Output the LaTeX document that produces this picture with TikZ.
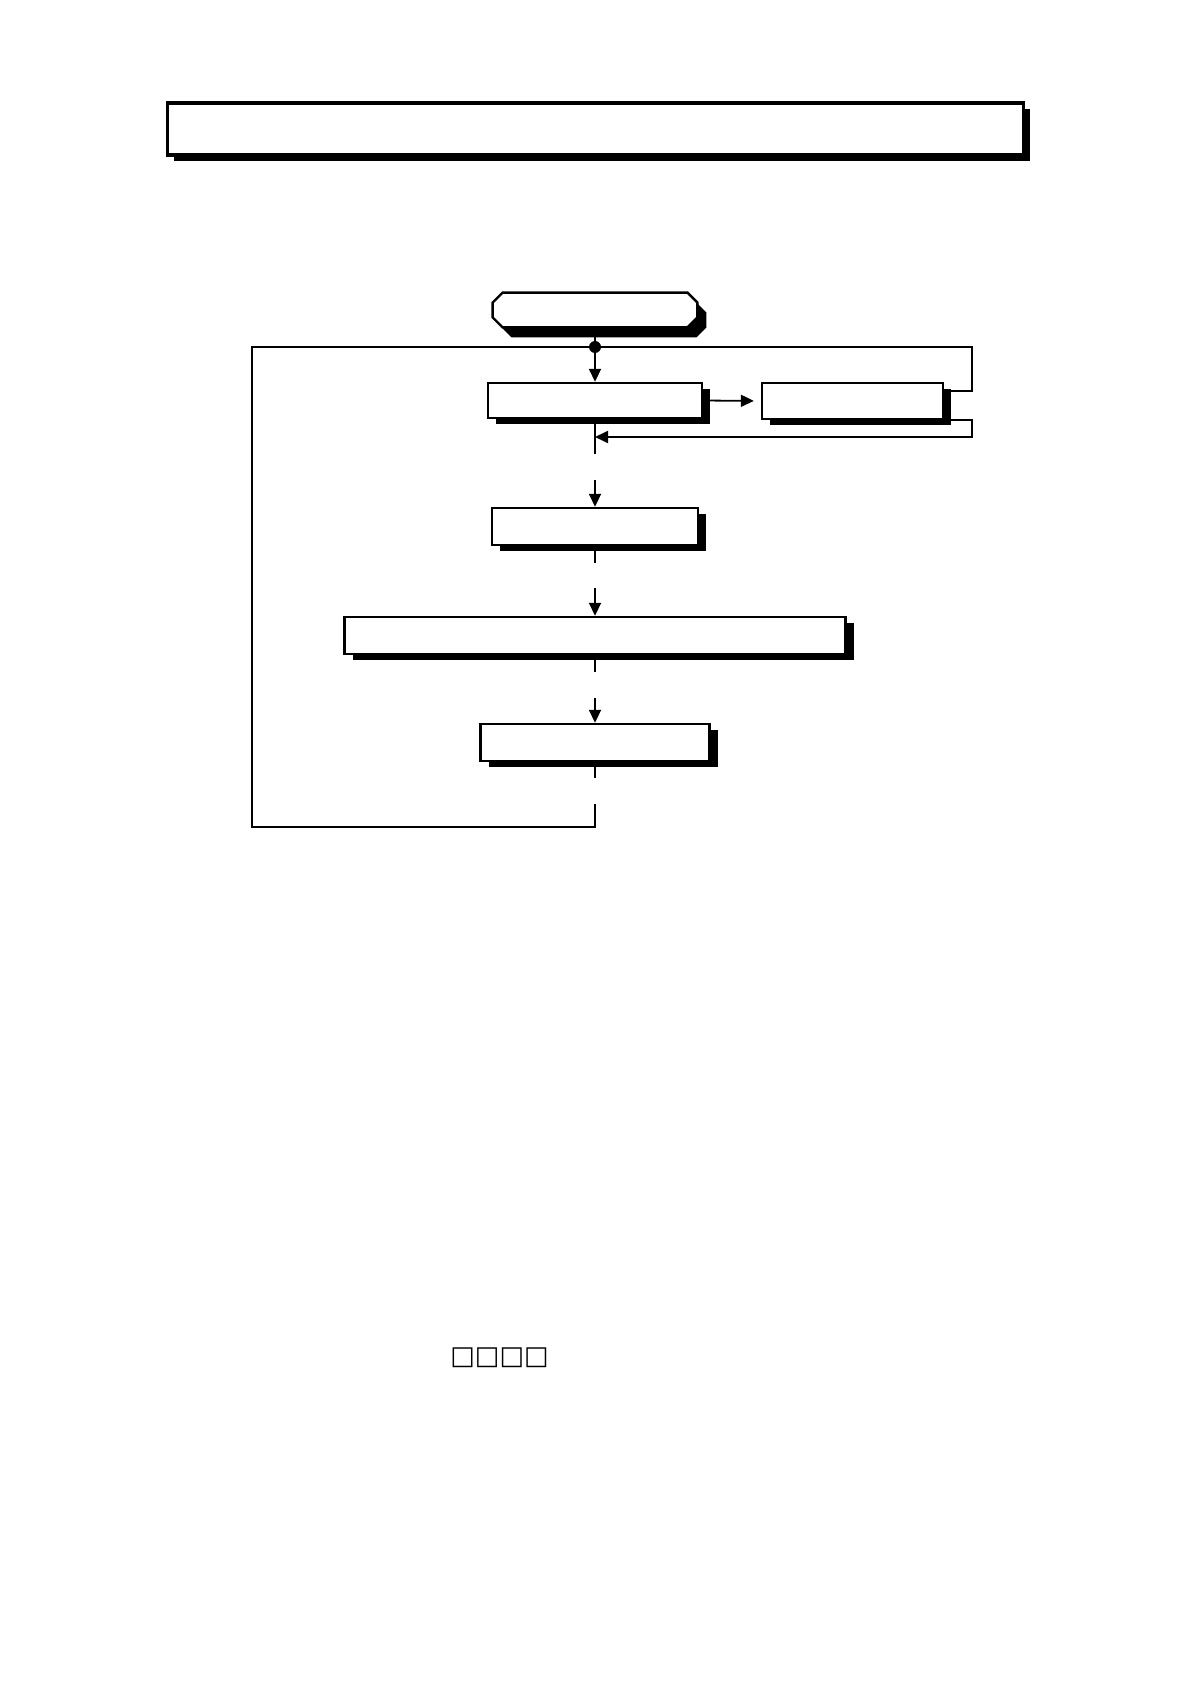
\documentclass[tikz,border=0pt]{standalone}
\usepackage{fontspec}
\newfontfamily\symfont{DejaVu Sans}
\usetikzlibrary{arrows.meta}
\usetikzlibrary{shadows}

% octagon round a named node: #1 node, #2 chamfer
\newcommand\octpath[2]{([xshift=#2]#1.north west) -- ([xshift=-#2]#1.north east)
  -- ([yshift=-#2]#1.north east) -- ([yshift=#2]#1.south east)
  -- ([xshift=-#2]#1.south east) -- ([xshift=#2]#1.south west)
  -- ([yshift=#2]#1.south west) -- ([yshift=-#2]#1.north west) -- cycle}

\tikzset{
  stepbox/.style={draw,line width=1.2pt,fill=white,inner sep=0pt,minimum height=17.5pt,
    drop shadow={shadow xshift=4pt,shadow yshift=-3pt,opacity=1,fill=black}},
  startbox/.style={inner sep=0pt,minimum width=102pt,minimum height=17pt},
  titlebox/.style={draw,line width=1.7pt,fill=white,inner sep=0pt,minimum width=428pt,minimum height=26pt,
    drop shadow={shadow xshift=3pt,shadow yshift=-3pt,opacity=1,fill=black}},
  flow/.style={line width=0.9pt}
}

\begin{document}
\begin{tikzpicture}[>={Triangle[length=6.5pt,width=6pt]},x=0.5pt,y=-0.5pt]
    \useasboundingbox (0,0) rectangle (1191,1684);
    \node[titlebox] (title) at (595.5,129) {};
    \node[startbox] (start) at (595,310) {};
    \node[startbox] (startshadow) at ([xshift=4.5pt,yshift=-5pt]start) {};
    \fill \octpath{startshadow}{5pt};
    \filldraw[fill=white,line width=1.2pt] \octpath{start}{5pt};
    \node[stepbox,minimum width=107pt] (read) at (595,400.5) {};
    \node[stepbox,minimum width=90.5pt,minimum height=18pt] (sub) at (852.5,401) {};
    \node[stepbox,minimum width=103pt,minimum height=18.5pt] (calc) at (595,526.5) {};
    \node[stepbox,minimum width=250.5pt,minimum height=18.5pt] (check) at (595,635.5) {};
    \node[stepbox,minimum width=114.5pt,minimum height=18.5pt] (out) at (595,742.5) {};
    \node[font=\symfont\fontsize{13}{13}\selectfont,inner sep=0pt] (note) at (499.5,1358) {□□□□};
    % junction below the start
    \coordinate (dot) at (595,347);
    \draw[flow] (start.south) -- (dot);
    \fill (dot) circle (3pt);
    \draw[flow,->] (dot) -- (read.north);
    \draw[flow,->,shorten >=3.5pt] (read.east) -- (sub.west);
    % right loop
    \coordinate (rtop) at (972,347);
    \coordinate (rbot) at (972,437);
    \draw[flow] (dot) -- (rtop) |- ([yshift=-4.5pt]sub.north east);
    \draw[flow,->] (sub.south east) -- (rbot |- sub.south east) -- (rbot) -- (rbot -| read.south);
    % main line, broken between the steps
    \coordinate (a1) at (595,454);
    \coordinate (a2) at (595,480);
    \coordinate (b1) at (595,563);
    \coordinate (b2) at (595,588);
    \coordinate (c1) at (595,672);
    \coordinate (c2) at (595,698);
    \coordinate (d1) at (595,778);
    \coordinate (d2) at (595,804);
    \coordinate (back) at (252,827);
    \draw[flow] (read.south) -- (a1);
    \draw[flow,->] (a2) -- (calc.north);
    \draw[flow] (calc.south) -- (b1);
    \draw[flow,->] (b2) -- (check.north);
    \draw[flow] (check.south) -- (c1);
    \draw[flow,->] (c2) -- (out.north);
    \draw[flow] (out.south) -- (d1);
    % back to the top
    \draw[flow] (d2) -- (d2 |- back) -- (back) -- (back |- dot) -- (dot);
\end{tikzpicture}
\end{document}
